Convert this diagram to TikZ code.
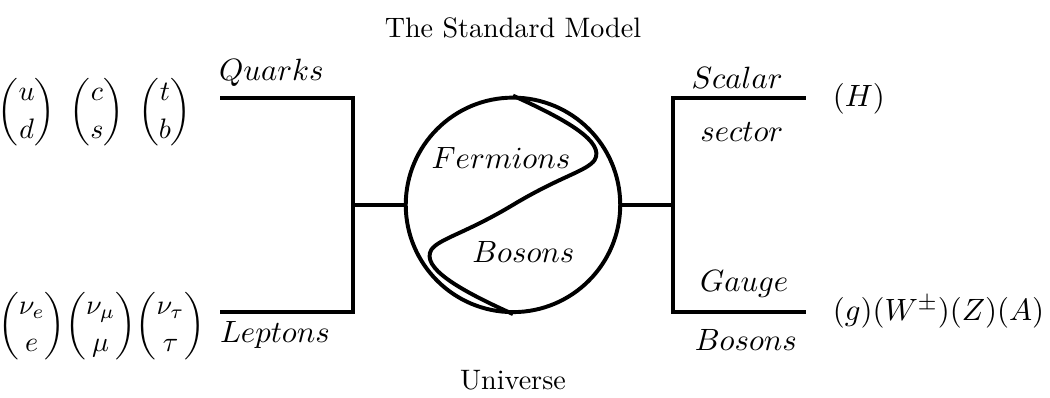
\documentclass[tikz,border=0pt]{standalone}
\usepackage{amsmath}
\usetikzlibrary{calc, positioning}

\begin{document}
\begin{tikzpicture}[
  bar/.style={line width=1.4pt},
  mth/.style={font=\fontsize{10.95}{13.6}\selectfont},
  lbl/.style={mth, anchor=west, inner sep=0pt},
  mtx/.style={execute at begin node={\renewcommand{\arraystretch}{1.1}}}
]
\def\rad{1.34}
\def\jx{2.0}
\def\ex{3.66}
\pgfmathsetmacro{\dia}{2*\rad}

\useasboundingbox (-6.41,-2.41) rectangle (6.71,2.56);

\node[draw, bar, circle, minimum size=\dia cm, inner sep=0pt] (sm) at (0,0) {};

\coordinate (jL) at (-\jx,0);
\coordinate (jR) at (\jx,0);
\coordinate (qS) at (-\ex,\rad);
\coordinate (qE) at (-\jx,\rad);
\coordinate (lS) at (-\ex,-\rad);
\coordinate (lE) at (-\jx,-\rad);
\coordinate (sS) at (\jx,\rad);
\coordinate (sE) at (\ex,\rad);
\coordinate (gS) at (\jx,-\rad);
\coordinate (gE) at (\ex,-\rad);

\draw[bar] (sm.west) -- (jL);
\draw[bar] (qS) -- (qE) -- (lE) -- (lS);
\draw[bar] (sm.east) -- (jR);
\draw[bar] (sE) -- (sS) -- (gS) -- (gE);

\draw[bar] (sm.north) .. controls (0.7,1.05) and (1.15,0.78) .. (1.02,0.56)
  .. controls (0.92,0.42) and (0.6,0.36) .. (0,0)
  .. controls (-0.6,-0.36) and (-0.92,-0.42) .. (-1.02,-0.56)
  .. controls (-1.15,-0.78) and (-0.7,-1.05) .. (sm.south);

\node[mth] (ferm) at (-0.15,0.59) {$Fermions$};
\node[mth] (bos) at (0.13,-0.59) {$Bosons$};

\node (title) at (0,2.21) {The Standard Model};
\node (univ) at (0,-2.19) {Universe};

\node[mth] (quarks) at (-3.02,1.65) {$Quarks$};
\node[mth] (leptons) at (-2.975,-1.62) {$Leptons$};
\node[mth] (scalar) at (2.8,1.59) {$Scalar$};
\node[mth] (sector) at (2.86,0.91) {$sector$};
\node[mth] (gauge) at (2.89,-0.99) {$Gauge$};
\node[mth] (gbos) at (2.91,-1.69) {$Bosons$};

\node[lbl] (higgs) at (3.99,1.325) {$(H)$};
\node[lbl] (gfields) at (3.99,-1.34) {$(g)(W^{\pm})(Z)(A)$};

\node[mtx] (quarkmat) at (-5.225,1.16)
  {$\begin{pmatrix}u\\d\end{pmatrix}\mskip6mu\begin{pmatrix}c\\s\end{pmatrix}\mskip6mu\begin{pmatrix}t\\b\end{pmatrix}$};
\node[mtx] (leptmat) at (-5.14,-1.51)
  {$\begin{pmatrix}\nu_e\\e\end{pmatrix}\!\begin{pmatrix}\nu_\mu\\\mu\end{pmatrix}\!\begin{pmatrix}\nu_\tau\\\tau\end{pmatrix}$};
\end{tikzpicture}
\end{document}
